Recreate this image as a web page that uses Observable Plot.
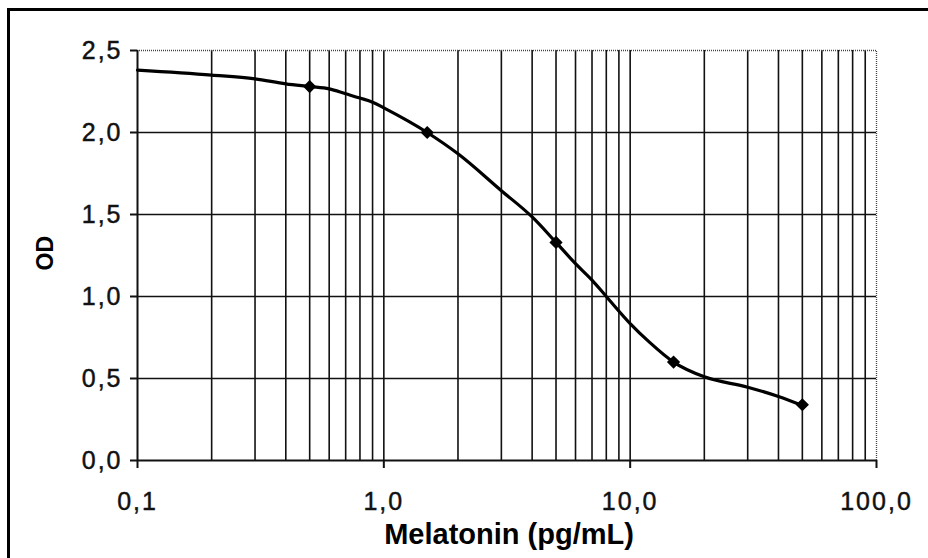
<!DOCTYPE html>
<html>
<head>
<meta charset="utf-8">
<script src="https://cdn.jsdelivr.net/npm/d3@7"></script>
<script src="https://cdn.jsdelivr.net/npm/@observablehq/plot@0.6"></script>
<style>
  html, body { margin: 0; padding: 0; background: #ffffff; overflow: hidden; }
  #wrap { position: relative; width: 928px; height: 558px; overflow: hidden; }
  #frame { position: absolute; left: 7px; top: 8px; width: 960px; height: 600px; border-left: 3px solid #000; border-top: 3px solid #000; box-sizing: border-box; pointer-events: none; }
  g[aria-label="x-axis tick label"] text, g[aria-label="y-axis tick label"] text { letter-spacing: 2px; stroke: #111; stroke-width: 0.45px; }
</style>
</head>
<body>
<div id="wrap"><div id="frame"></div></div>
<script>
// Standards (measured points)
const standardConc = [0.5, 1.5, 5, 15, 50];
const standardOD = [2.28, 2.0, 1.33, 0.6, 0.34];

// Fitted curve
const curveConc = [0.1, 0.2, 0.3, 0.4, 0.5, 0.6, 0.7, 0.8, 0.9, 1.0, 1.5, 2, 3, 4, 5, 6, 7, 8, 10, 12, 15, 20, 30, 40, 50];
const curveOD = [2.38, 2.35, 2.327, 2.297, 2.28, 2.266, 2.236, 2.21, 2.185, 2.15, 2.0, 1.87, 1.645, 1.485, 1.33, 1.2, 1.1, 1.0, 0.835, 0.72, 0.6, 0.51, 0.447, 0.39, 0.335];

// Axis ticks and grid
const xTicks = [0.1, 1, 10, 100];
const yTicks = [0, 0.5, 1.0, 1.5, 2.0, 2.5];
const xGrid = [0.2, 0.3, 0.4, 0.5, 0.6, 0.7, 0.8, 0.9, 1, 2, 3, 4, 5, 6, 7, 8, 9, 10, 20, 30, 40, 50, 60, 70, 80, 90];
const yGrid = [0.5, 1.0, 1.5, 2.0];
const xLabel = "Melatonin (pg/mL)";
const yLabel = "OD";

const curve = curveConc.map((c, i) => ({c, od: curveOD[i]}));
const standards = standardConc.map((c, i) => ({c, od: standardOD[i]}));
const fmt = d => d.toFixed(1).replace(".", ",");

const chart = Plot.plot({
  width: 928,
  height: 558,
  marginLeft: 137,
  marginRight: 52,
  marginTop: 50,
  marginBottom: 98,
  x: {type: "log", domain: [0.1, 100]},
  y: {domain: [0, 2.5]},
  style: {fontFamily: "'Liberation Sans', Arial, sans-serif", background: "transparent", color: "#111"},
  marks: [
    Plot.ruleX(xGrid, {y1: 0, y2: 2.5, stroke: "#111", strokeWidth: 1.6, strokeOpacity: 1}),
    Plot.ruleY(yGrid, {x1: 0.1, x2: 100, stroke: "#111", strokeWidth: 1.6, strokeOpacity: 1}),
    Plot.ruleY([2.5], {x1: 0.1, x2: 100, stroke: "#444", strokeWidth: 1.3, strokeDasharray: "1,1"}),
    Plot.ruleX([100], {y1: 0, y2: 2.5, stroke: "#444", strokeWidth: 1.3, strokeDasharray: "1,1"}),
    Plot.ruleX([0.1], {y1: 0, y2: 2.5, stroke: "#111", strokeWidth: 2}),
    Plot.ruleY([0], {x1: 0.1, x2: 100, stroke: "#111", strokeWidth: 2}),
    Plot.axisY({ticks: yTicks, tickFormat: fmt, tickSize: 7, tickPadding: 8, fontSize: 25, label: null, strokeWidth: 2, strokeOpacity: 1}),
    Plot.axisX({ticks: xTicks, tickFormat: fmt, tickSize: 8, tickPadding: 24, fontSize: 25, label: null, strokeWidth: 2, strokeOpacity: 1}),
    Plot.line(curve, {x: "c", y: "od", curve: "monotone-x", stroke: "#000", strokeWidth: 3.2}),
    Plot.dot(standards, {x: "c", y: "od", symbol: "diamond2", r: 5, fill: "#000", stroke: "#000"}),
    Plot.text([xLabel], {frameAnchor: "bottom", text: d => d, dx: 2, dy: 74, lineAnchor: "middle", fontSize: 29, fontWeight: "bold", fill: "#000"}),
    Plot.text([yLabel], {frameAnchor: "left", text: d => d, dx: -92, dy: 15, rotate: -90, lineAnchor: "middle", fontSize: 23, fontWeight: "bold", fill: "#000"})
  ]
});
chart.style.position = "absolute";
chart.style.left = "0px";
chart.style.top = "0px";
document.getElementById("wrap").appendChild(chart);
</script>
</body>
</html>
